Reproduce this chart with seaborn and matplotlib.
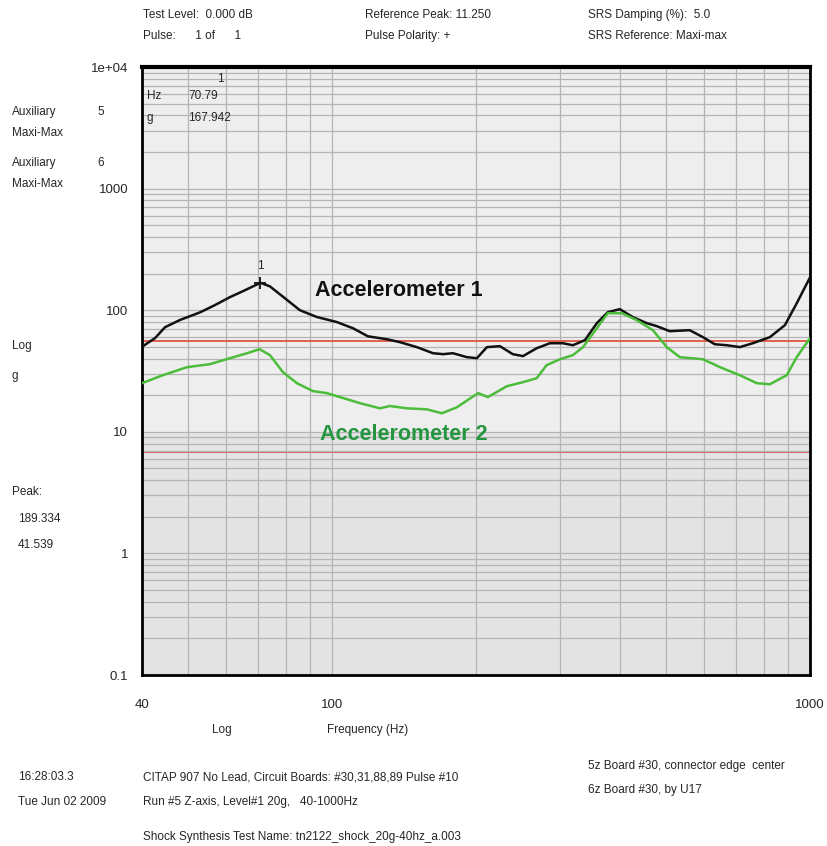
import pandas as pd
import matplotlib.pyplot as plt
import matplotlib.ticker as mticker
import seaborn as sns

# SRS curves (Hz, g)
freq_acc1 = [40, 42.6, 44.7, 48, 52.9, 56.8, 61.1, 65.7, 70.8, 74.1, 79.7, 85.6, 92.8,
             102.2, 110.6, 118.8, 130.2, 138.6, 150.4, 162.5, 170.6, 178.9, 191.4, 200.9,
             210.8, 224.4, 238.8, 250.8, 268, 285.6, 304, 319, 338, 358, 377.5, 400, 426,
             455.6, 478, 508.8, 560, 597, 632, 670, 713, 759, 824, 886, 938, 1000]
g_acc1 = [50, 59, 72.5, 83, 96, 110, 128, 146, 168, 157, 125, 100, 88,
          80, 71, 61, 57.7, 54.6, 49.7, 44.3, 43.5, 44.3, 41.1, 40.3,
          49.7, 50.6, 43.5, 41.9, 48.7, 53.5, 53.5, 51.5, 56.7, 78.2, 96.3, 102, 87.6,
          78.2, 73.9, 67.2, 68.5, 60, 52.5, 51.5, 49.7, 53.5, 60, 75.3, 114, 186]

freq_acc2 = [40, 44.2, 49.7, 55.5, 61.1, 66.4, 70.5, 74.1, 78.9, 84.4, 91.2, 97.5,
             103.8, 114.3, 125.9, 132, 143.4, 157.9, 169.7, 182.4, 202, 211.8, 232,
             250.8, 268, 281, 299.6, 319, 335, 358, 377.5, 404, 434, 469, 501.6, 534,
             597, 648, 713, 774, 824, 894, 938, 1000]
g_acc2 = [25.1, 29.2, 34, 36, 40.3, 44.3, 47.8, 42.7, 30.9, 25.1, 21.6, 20.8,
          19.3, 17.2, 15.6, 16.3, 15.6, 15.3, 14.2, 15.9, 20.8, 19.3, 23.7,
          25.6, 27.6, 35.3, 39.5, 42.7, 49.7, 71.1, 94.5, 94.5, 82.8, 68.5, 49.7, 41.1,
          39.5, 34, 29.2, 25.1, 24.6, 29.2, 41.1, 58.9]

ref_levels = [55.6, 6.8]
peak_hz, peak_g = 70.79, 167.942
y_ticks = [0.1, 1, 10, 100, 1000, 10000]
y_ticklabels = ['0.1', '1', '10', '100', '1000', '1e+04']
x_ticks = [40, 100, 1000]
x_ticklabels = ['40', '100', '1000']

df = pd.concat([
    pd.DataFrame({'freq': freq_acc1, 'g': g_acc1, 'ch': 'Accelerometer 1'}),
    pd.DataFrame({'freq': freq_acc2, 'g': g_acc2, 'ch': 'Accelerometer 2'}),
])

sns.set_style('white')
plt.rcParams['font.family'] = ['Liberation Sans', 'DejaVu Sans']

W, H = 827, 846
fig = plt.figure(figsize=(W / 100, H / 100), dpi=100)
ax = fig.add_axes([142 / W, 1 - 675 / H, 668 / W, 608 / H])
ax.set_facecolor('#e3e3e3')

ax.set_xscale('log')
ax.set_yscale('log')
ax.set_xlim(40, 1000)
ax.set_ylim(0.1, 10000)
ax.axhspan(10, 10000, color='#eeeeee', zorder=0)

ax.xaxis.set_minor_locator(mticker.LogLocator(subs=range(2, 10), numticks=20))
ax.yaxis.set_minor_locator(mticker.LogLocator(subs=range(2, 10), numticks=20))
ax.xaxis.set_minor_formatter(mticker.NullFormatter())
ax.yaxis.set_minor_formatter(mticker.NullFormatter())
ax.grid(which='both', color='#b4b4b4', lw=0.9, zorder=1)
ax.set_axisbelow(True)

ax.axhline(ref_levels[0], color='#e2553f', lw=1.3, zorder=2)
ax.axhline(ref_levels[1], color='#d86a6a', lw=0.7, zorder=2)

sns.lineplot(data=df, x='freq', y='g', hue='ch', estimator=None,
             palette={'Accelerometer 1': '#111111', 'Accelerometer 2': '#4cbd3a'},
             lw=1.8, legend=False, ax=ax, zorder=3)

# peak marker
ax.plot([peak_hz], [peak_g], marker='+', ms=9, mew=1.3, color='#111111', zorder=4)
ax.text(peak_hz, peak_g * 1.22, '1', ha='center', va='bottom', fontsize=8.5)

ax.set_xticks(x_ticks)
ax.set_xticklabels(x_ticklabels)
ax.set_yticks(y_ticks)
ax.set_yticklabels(y_ticklabels)
ax.tick_params(axis='x', which='major', length=5, pad=12, labelsize=9.5)
ax.tick_params(axis='y', which='major', length=8, pad=2, labelsize=9.5)
ax.tick_params(which='minor', length=0)
ax.set_xlabel('')
ax.set_ylabel('')

for side, s in ax.spines.items():
    s.set_color('black')
    s.set_linewidth(2)
ax.spines['top'].set_linewidth(3)

ax.text(0.259, 0.633, 'Accelerometer 1', transform=ax.transAxes, fontsize=15.5,
        fontweight='bold', va='center', color='#111111')
ax.text(0.266, 0.395, 'Accelerometer 2', transform=ax.transAxes, fontsize=15.5,
        fontweight='bold', va='center', color='#23963f')

# cursor readout inside the plot
ax.text(0.117, 0.975, '1', transform=ax.transAxes, fontsize=8.5, ha='center')
ax.text(0.007, 0.948, 'Hz', transform=ax.transAxes, fontsize=8.5)
ax.text(0.069, 0.948, '70.79', transform=ax.transAxes, fontsize=8.5)
ax.text(0.007, 0.912, 'g', transform=ax.transAxes, fontsize=8.5)
ax.text(0.069, 0.912, '167.942', transform=ax.transAxes, fontsize=8.5)


def put(x, y, s, **kw):
    fig.text(x / W, 1 - y / H, s, fontsize=8.5, va='center', **kw)


# header
put(143, 15, 'Test Level:  0.000 dB')
put(143, 36, 'Pulse:      1 of      1')
put(365, 15, 'Reference Peak: 11.250')
put(365, 36, 'Pulse Polarity: +')
put(588, 15, 'SRS Damping (%):  5.0')
put(588, 36, 'SRS Reference: Maxi-max')

# left side labels
put(12, 112, 'Auxiliary')
put(97, 112, '5')
put(12, 133, 'Maxi-Max')
put(12, 163, 'Auxiliary')
put(97, 163, '6')
put(12, 184, 'Maxi-Max')
put(12, 346, 'Log')
put(12, 376, 'g')
put(12, 492, 'Peak:')
put(18, 519, '189.334')
put(18, 545, '41.539')

# axis captions and footer
put(222, 730, 'Log', ha='center')
put(368, 730, 'Frequency (Hz)', ha='center')
put(18, 777, '16:28:03.3')
put(18, 802, 'Tue Jun 02 2009')
put(143, 777, 'CITAP 907 No Lead, Circuit Boards: #30,31,88,89 Pulse #10')
put(143, 802, 'Run #5 Z-axis, Level#1 20g,   40-1000Hz')
put(143, 837, 'Shock Synthesis Test Name: tn2122_shock_20g-40hz_a.003')
put(588, 766, '5z Board #30, connector edge  center')
put(588, 790, '6z Board #30, by U17')

fig.savefig('out.png', dpi=100)
plt.close()
